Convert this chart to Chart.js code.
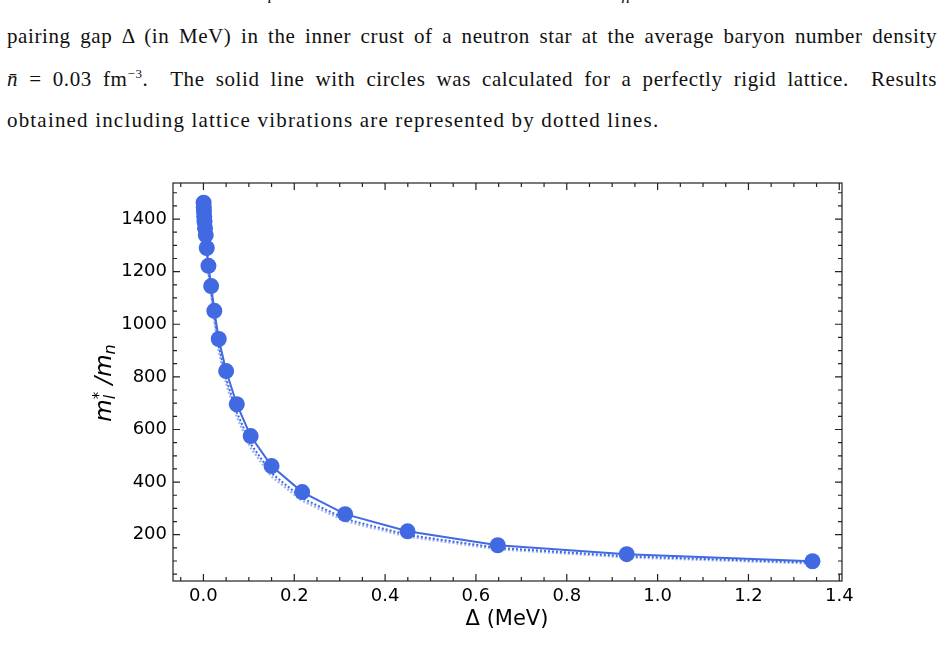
<!DOCTYPE html>
<html>
<head>
<meta charset="utf-8">
<script src="https://cdn.jsdelivr.net/npm/chart.js@4.4.1/dist/chart.umd.min.js"></script>
<style>
    body { margin: 0; width: 944px; height: 655px; background: #fff; overflow: hidden; position: relative; }
    .cap { position: absolute; left: 7px; width: 930px; font-family: 'Liberation Serif', serif; font-size: 21px; letter-spacing: 1.18px; color: #111; white-space: nowrap; }
    .just { text-align: justify; text-align-last: justify; white-space: normal; letter-spacing: 0.6px; }
    #chartBox { position: absolute; left: 0; top: 160px; width: 944px; height: 480px; }
</style>
</head>
<body>
<div class="cap just" style="top:-26px;">FIG. 6: Effective mass <i>m</i><sub><i>l</i></sub><sup>*</sup> in units of the neutron mass <i>m</i><sub><i>n</i></sub> as a function of the neutron</div>
<div class="cap just" style="top:24px;">pairing gap Δ (in MeV) in the inner crust of a neutron star at the average baryon number density</div>
<div class="cap just" style="top:66px;"><i>n̄</i> = 0.03 fm<sup style="font-size:13px">−3</sup>.&nbsp; The solid line with circles was calculated for a perfectly rigid lattice.&nbsp; Results</div>
<div class="cap" style="top:108px;">obtained including lattice vibrations are represented by dotted lines.</div>
<div id="chartBox"><canvas id="massChart" width="944" height="480"></canvas></div>
<script>
// pairing gap (MeV)
const gapValues = [0.0004, 0.0008, 0.0012, 0.0017, 0.0024, 0.0035, 0.0051, 0.0073, 0.011, 0.017, 0.024,
    0.0337, 0.050, 0.0734, 0.104, 0.150, 0.2175, 0.312, 0.4495, 0.648, 0.932, 1.341];
// rigid lattice (solid line with circles)
const rigidMass = [1462, 1445, 1428, 1410, 1390, 1365, 1339, 1290, 1222, 1145, 1051,
    944, 822, 696, 575, 461, 362, 278, 213, 160, 126, 99];
// with lattice vibrations (dotted lines)
const vibMassA = [1460, 1442, 1424, 1405, 1384, 1357, 1328, 1276, 1205, 1125, 1028,
    916, 792, 665, 545, 434, 339, 260, 199, 150, 118, 94];
const vibMassB = [1458, 1440, 1421, 1401, 1379, 1351, 1320, 1266, 1193, 1110, 1012,
    900, 775, 648, 530, 421, 329, 252, 193, 145, 114, 91];

const xTicks = [0.0, 0.2, 0.4, 0.6, 0.8, 1.0, 1.2, 1.4];
const xTickLabels = ['0.0', '0.2', '0.4', '0.6', '0.8', '1.0', '1.2', '1.4'];
const yTicks = [200, 400, 600, 800, 1000, 1200, 1400];
const yTickLabels = ['200', '400', '600', '800', '1000', '1200', '1400'];

const BLUE = '#4169e1';
const toPoints = (ys) => ys.map((y, i) => ({ x: gapValues[i], y: y }));

// frame + inward ticks on all four sides, plus axis titles
const framePlugin = {
    id: 'frame',
    afterDraw(chart) {
        const ctx = chart.ctx;
        const a = chart.chartArea;
        const xs = chart.scales.x, ys = chart.scales.y;
        ctx.save();
        ctx.strokeStyle = '#222';
        ctx.lineWidth = 1.2;
        ctx.strokeRect(a.left, a.top, a.right - a.left, a.bottom - a.top);

        ctx.beginPath();
        const tickX = (v, len) => {
            const px = xs.getPixelForValue(v);
            if (px < a.left || px > a.right) return;
            ctx.moveTo(px, a.bottom); ctx.lineTo(px, a.bottom - len);
            ctx.moveTo(px, a.top); ctx.lineTo(px, a.top + len);
        };
        const tickY = (v, len) => {
            const py = ys.getPixelForValue(v);
            if (py < a.top || py > a.bottom) return;
            ctx.moveTo(a.left, py); ctx.lineTo(a.left + len, py);
            ctx.moveTo(a.right, py); ctx.lineTo(a.right - len, py);
        };
        for (let i = -1; i <= 28; i++) tickX(i * 0.05, 4);
        xTicks.forEach(v => tickX(v, 7));
        for (let i = 1; i <= 30; i++) tickY(i * 50, 4);
        yTicks.forEach(v => tickY(v, 7));
        ctx.stroke();

        // x title
        ctx.fillStyle = '#000';
        ctx.font = '21px "DejaVu Sans"';
        ctx.textAlign = 'center';
        ctx.textBaseline = 'middle';
        ctx.fillText('Δ (MeV)', 507, 460);

        // y title: m_l^* /m_n
        ctx.translate(103, 223);
        ctx.rotate(-Math.PI / 2);
        ctx.textAlign = 'left';
        ctx.textBaseline = 'alphabetic';
        const big = 'italic 23px "DejaVu Sans"';
        const small = 'italic 16px "DejaVu Sans"';
        const parts = [
            { t: 'm', f: big, dy: 0 },
            { t: 'l', f: small, dy: 4, keep: true },
            { t: '*', f: '15px "DejaVu Sans"', dy: -7 },
            { t: ' /', f: big, dy: 0 },
            { t: 'm', f: big, dy: 0 },
            { t: 'n', f: small, dy: 4 }
        ];
        let total = 0;
        parts.forEach(p => { ctx.font = p.f; p.w = ctx.measureText(p.t).width; if (!p.keep) total += p.w; });
        let x = -total / 2;
        parts.forEach(p => {
            ctx.font = p.f;
            ctx.fillText(p.t, x, 8 + p.dy);
            if (!p.keep) x += p.w;
        });
        ctx.restore();
    }
};

new Chart(document.getElementById('massChart'), {
    type: 'line',
    data: {
        datasets: [
            {
                data: toPoints(rigidMass),
                borderColor: BLUE,
                backgroundColor: BLUE,
                borderWidth: 2,
                pointRadius: 8,
                pointBorderWidth: 0,
                pointBackgroundColor: BLUE,
                fill: false,
                tension: 0
            },
            {
                data: toPoints(vibMassA),
                borderColor: BLUE,
                borderWidth: 2,
                borderDash: [2, 2],
                pointRadius: 0,
                fill: false,
                tension: 0
            },
            {
                data: toPoints(vibMassB),
                borderColor: '#a3b6ef',
                borderWidth: 2.5,
                borderDash: [2, 2],
                borderDashOffset: 2,
                pointRadius: 0,
                fill: false,
                tension: 0
            }
        ]
    },
    options: {
        responsive: false,
        animation: false,
        clip: false,
        layout: { padding: { top: 23, right: 102, left: 0, bottom: 0 } },
        plugins: { legend: { display: false }, tooltip: { enabled: false } },
        scales: {
            x: {
                type: 'linear',
                min: -0.067,
                max: 1.406,
                grid: { display: false, drawTicks: false },
                border: { display: false },
                afterBuildTicks: (s) => { s.ticks = xTicks.map(v => ({ value: v })); },
                afterFit: (s) => { s.height = 59; },
                ticks: {
                    padding: 5,
                    color: '#000',
                    font: { family: 'DejaVu Sans', size: 18 },
                    maxRotation: 0,
                    callback: (v) => xTickLabels[xTicks.indexOf(v)] ?? ''
                }
            },
            y: {
                type: 'linear',
                min: 24,
                max: 1537,
                grid: { display: false, drawTicks: false },
                border: { display: false },
                afterBuildTicks: (s) => { s.ticks = yTicks.map(v => ({ value: v })); },
                afterFit: (s) => { s.width = 173; },
                ticks: {
                    padding: 6,
                    color: '#000',
                    font: { family: 'DejaVu Sans', size: 18 },
                    callback: (v) => yTickLabels[yTicks.indexOf(v)] ?? ''
                }
            }
        }
    },
    plugins: [framePlugin]
});
</script>
</body>
</html>
